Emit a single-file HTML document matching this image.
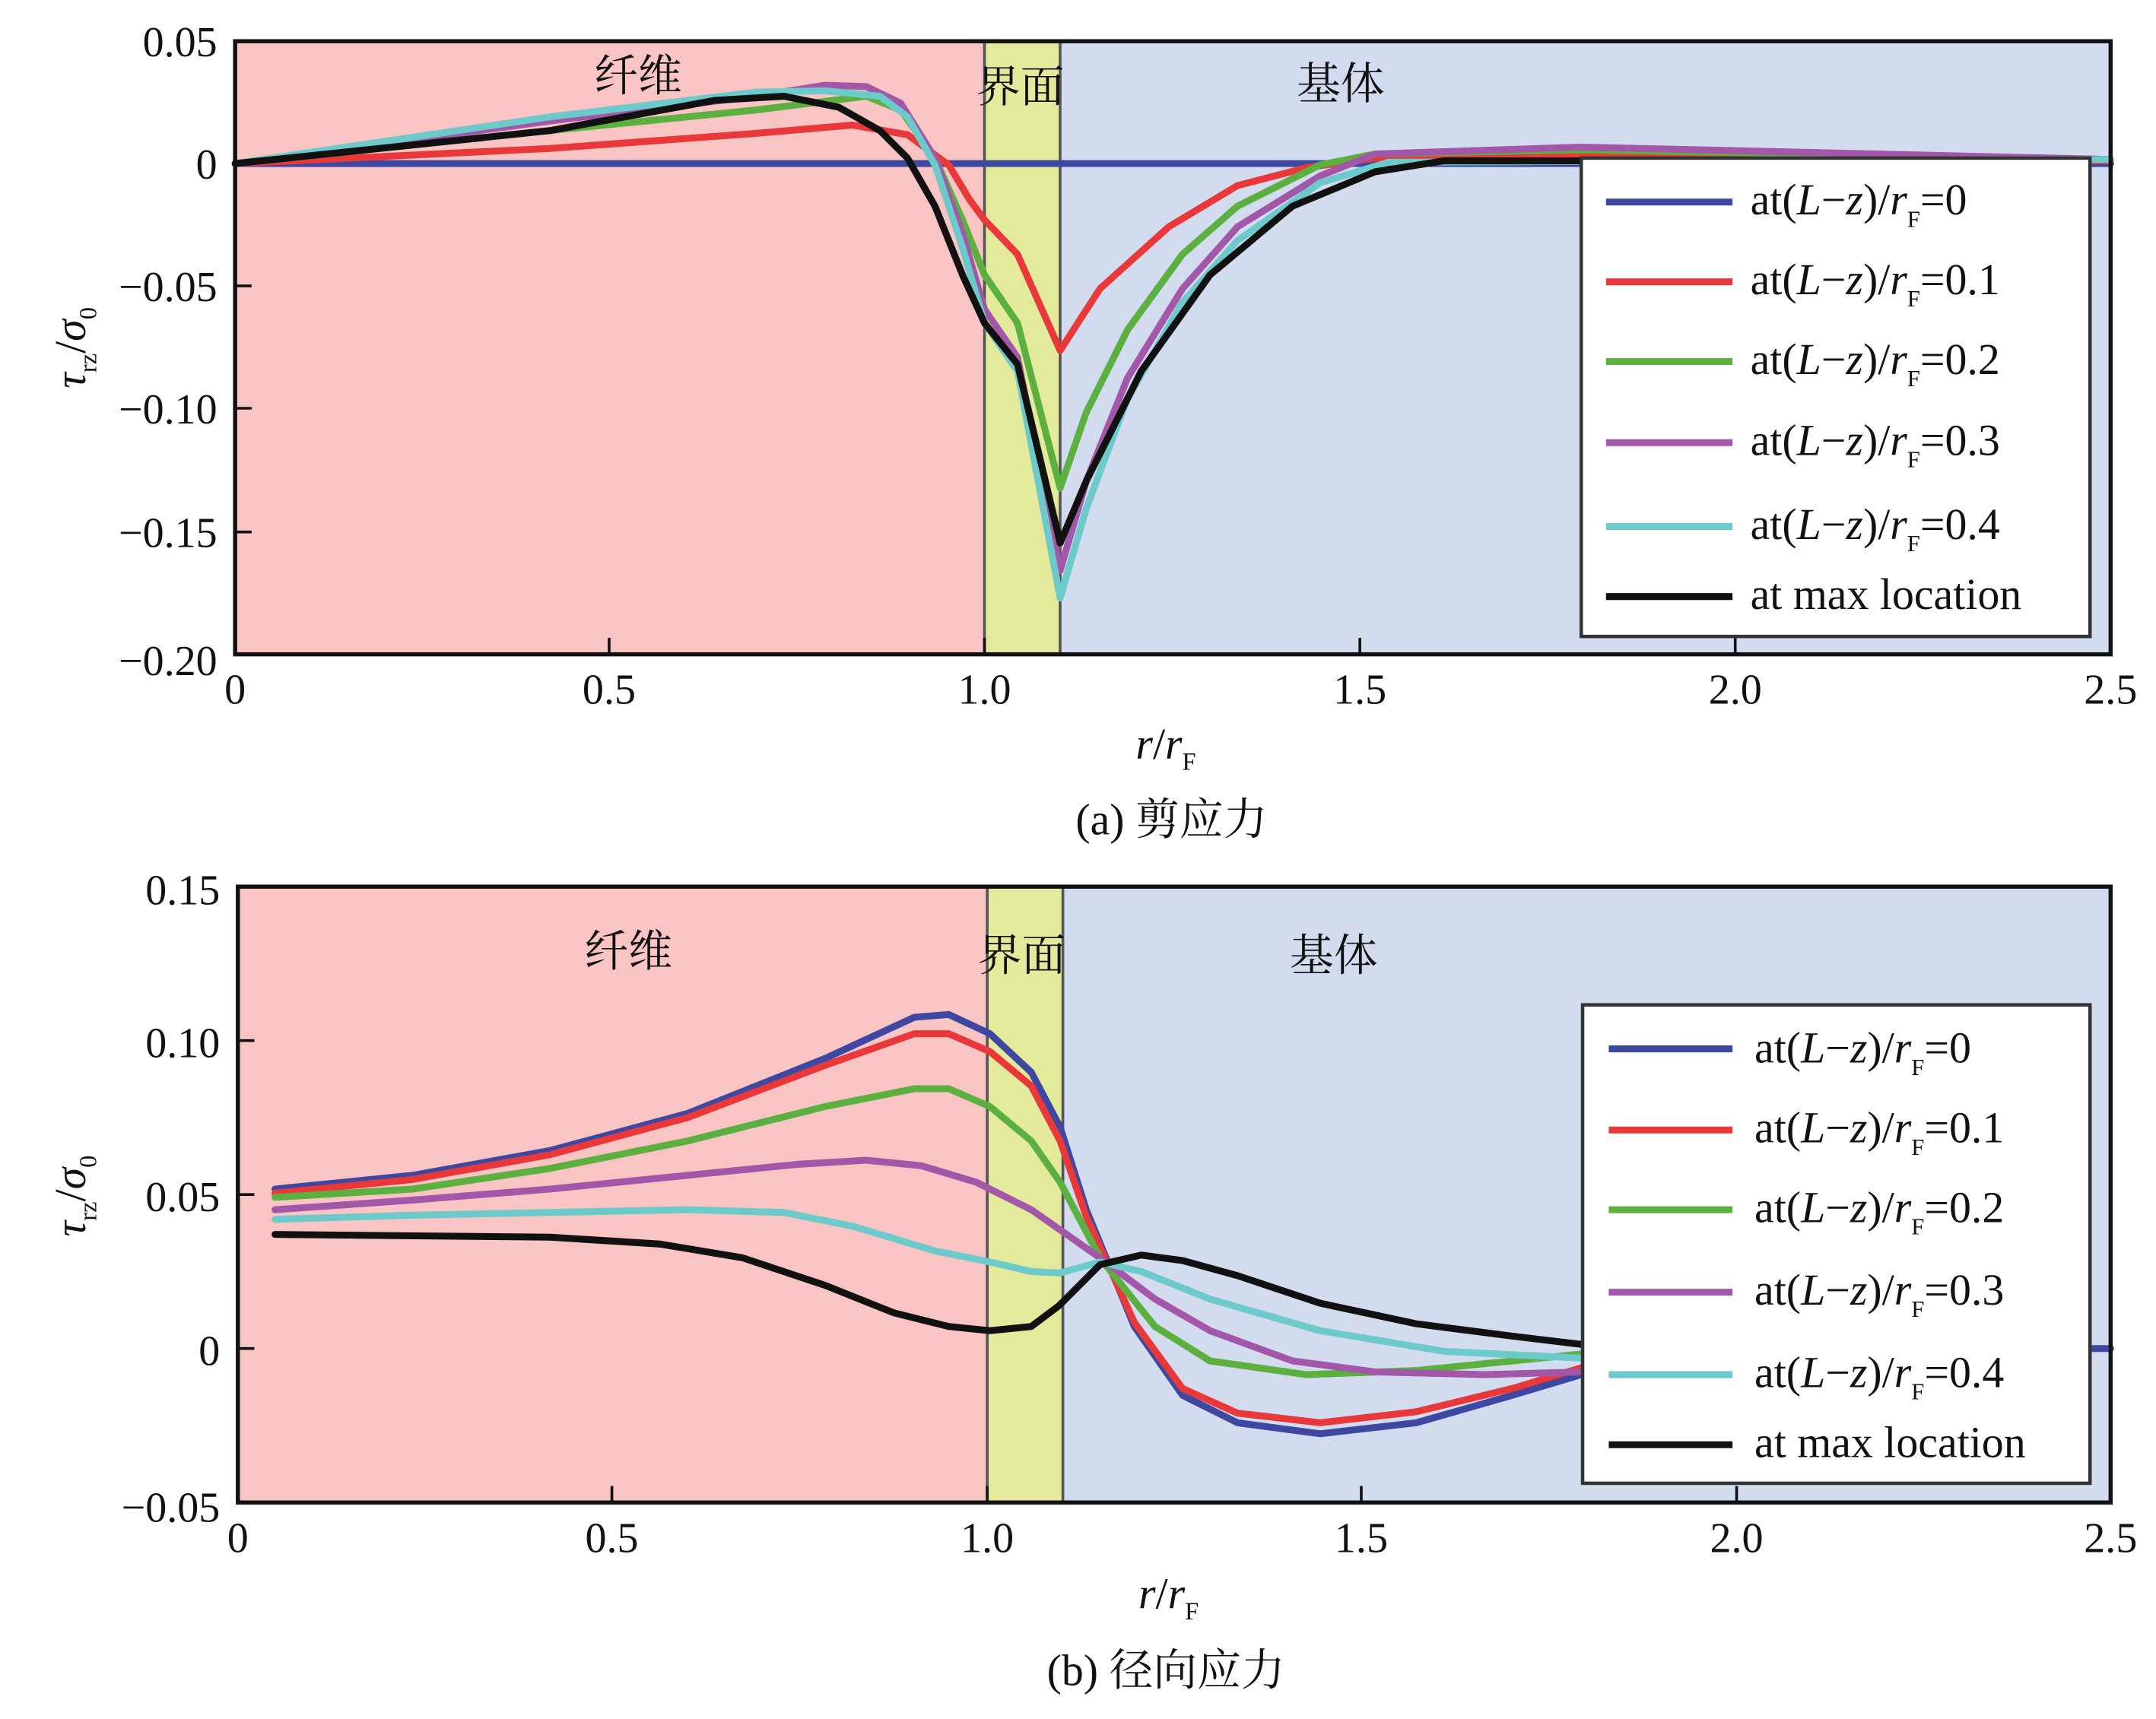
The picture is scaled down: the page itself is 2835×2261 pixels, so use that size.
<!DOCTYPE html>
<html><head><meta charset="utf-8"><style>html,body{margin:0;padding:0;background:#fff}svg{display:block;font-family:"Liberation Serif","Noto Serif CJK SC",serif}</style></head>
<body>
<svg width="2835" height="2261" viewBox="0 0 1568 1250.5" preserveAspectRatio="none" xmlns="http://www.w3.org/2000/svg">
<rect width="1568" height="1251" fill="#fff"/>
<!-- TOP -->
<rect x="171" y="30" width="545" height="446" fill="#f8c4c4"/>
<rect x="716" y="30" width="55" height="446" fill="#e4ea9c"/>
<rect x="771" y="30" width="764" height="446" fill="#d2dcee"/>
<line x1="716" y1="30" x2="716" y2="476" stroke="#555" stroke-width="2"/>
<line x1="771" y1="30" x2="771" y2="476" stroke="#555" stroke-width="2"/>
<g font-size="32" fill="#111"><text x="432" y="66">纤维</text><text x="710" y="74">界面</text><text x="943" y="72">基体</text></g>
<g fill="none" stroke-width="5" stroke-linejoin="round" stroke-linecap="round">
<polyline stroke="#3f48a0" points="171,119 1535,119"/>
<polyline stroke="#e8383a" points="171,119 400,108 550,97 620,91 660,98 690,120 705,145 716,160 740,185 771,255 800,210 850,165 900,135 950,122 1000,115 1150,113 1535,117"/>
<polyline stroke="#5cb040" points="171,119 400,95 550,80 630,70 655,80 680,115 700,160 716,200 740,235 771,355 790,300 820,240 860,185 900,150 960,120 1000,112 1150,109 1535,116"/>
<polyline stroke="#a257a8" points="171,119 400,88 550,70 600,62 630,63 655,75 680,115 700,170 716,225 740,260 771,415 790,350 820,275 860,210 900,165 960,128 1000,112 1150,107 1535,116"/>
<polyline stroke="#6ccaca" points="171,119 400,85 550,67 600,66 640,70 660,85 680,120 700,180 716,235 740,270 771,435 790,370 820,290 860,220 900,175 960,133 1010,118 1535,116"/>
<polyline stroke="#111" points="171,119 400,95 520,73 570,70 610,78 640,95 660,115 680,150 700,200 716,235 740,265 771,395 790,350 830,270 880,200 940,150 1000,125 1050,117 1150,117"/>
</g>
<rect x="171" y="30" width="1364" height="446" fill="none" stroke="#111" stroke-width="3"/>
<g stroke="#111" stroke-width="2"><line x1="443" y1="476" x2="443" y2="464"/><line x1="716" y1="476" x2="716" y2="464"/><line x1="989" y1="476" x2="989" y2="464"/><line x1="1262" y1="476" x2="1262" y2="464"/>
<line x1="171" y1="119" x2="183" y2="119"/><line x1="171" y1="208" x2="183" y2="208"/><line x1="171" y1="297" x2="183" y2="297"/><line x1="171" y1="387" x2="183" y2="387"/></g>
<g font-size="31" fill="#111" text-anchor="end"><text x="158" y="41">0.05</text><text x="158" y="130">0</text><text x="158" y="219">−0.05</text><text x="158" y="308">−0.10</text><text x="158" y="398">−0.15</text><text x="158" y="491">−0.20</text></g>
<g font-size="31" fill="#111" text-anchor="middle"><text x="171" y="512">0</text><text x="443" y="512">0.5</text><text x="716" y="512">1.0</text><text x="989" y="512">1.5</text><text x="1262" y="512">2.0</text><text x="1535" y="512">2.5</text></g>
<text transform="translate(62,253) rotate(-90)" font-size="32" text-anchor="middle" fill="#111"><tspan font-style="italic">τ</tspan><tspan font-size="18" dy="8">rz</tspan><tspan dy="-8">/</tspan><tspan font-style="italic">σ</tspan><tspan font-size="18" dy="8">0</tspan></text>
<text x="826" y="552" font-size="32" fill="#111"><tspan font-style="italic">r</tspan>/<tspan font-style="italic">r</tspan><tspan font-size="18" dy="8">F</tspan></text>
<text x="852" y="607" font-size="32" text-anchor="middle" fill="#111">(a) 剪应力</text>
<rect x="1150" y="115" width="370" height="348" fill="#fff" stroke="#333" stroke-width="2.5"/>
<g stroke-width="5"><line x1="1168" y1="147" x2="1260" y2="147" stroke="#3f48a0"/><line x1="1168" y1="205" x2="1260" y2="205" stroke="#e8383a"/><line x1="1168" y1="263" x2="1260" y2="263" stroke="#5cb040"/><line x1="1168" y1="322" x2="1260" y2="322" stroke="#a257a8"/><line x1="1168" y1="383" x2="1260" y2="383" stroke="#6ccaca"/><line x1="1168" y1="434" x2="1260" y2="434" stroke="#111"/></g>
<g font-size="32" fill="#111">
<text x="1273" y="156">at(<tspan font-style="italic">L</tspan>−<tspan font-style="italic">z</tspan>)/<tspan font-style="italic">r</tspan><tspan font-size="17" dy="9">F</tspan><tspan dy="-9">=0</tspan></text>
<text x="1273" y="214">at(<tspan font-style="italic">L</tspan>−<tspan font-style="italic">z</tspan>)/<tspan font-style="italic">r</tspan><tspan font-size="17" dy="9">F</tspan><tspan dy="-9">=0.1</tspan></text>
<text x="1273" y="272">at(<tspan font-style="italic">L</tspan>−<tspan font-style="italic">z</tspan>)/<tspan font-style="italic">r</tspan><tspan font-size="17" dy="9">F</tspan><tspan dy="-9">=0.2</tspan></text>
<text x="1273" y="331">at(<tspan font-style="italic">L</tspan>−<tspan font-style="italic">z</tspan>)/<tspan font-style="italic">r</tspan><tspan font-size="17" dy="9">F</tspan><tspan dy="-9">=0.3</tspan></text>
<text x="1273" y="392">at(<tspan font-style="italic">L</tspan>−<tspan font-style="italic">z</tspan>)/<tspan font-style="italic">r</tspan><tspan font-size="17" dy="9">F</tspan><tspan dy="-9">=0.4</tspan></text>
<text x="1273" y="443">at max location</text></g>

<!-- BOTTOM -->
<rect x="173" y="645" width="545" height="448" fill="#f8c4c4"/>
<rect x="718" y="645" width="55" height="448" fill="#e4ea9c"/>
<rect x="773" y="645" width="762" height="448" fill="#d2dcee"/>
<line x1="718" y1="645" x2="718" y2="1093" stroke="#555" stroke-width="2"/>
<line x1="773" y1="645" x2="773" y2="1093" stroke="#555" stroke-width="2"/>
<g font-size="32" fill="#111"><text x="425" y="703">纤维</text><text x="711" y="706">界面</text><text x="938" y="706">基体</text></g>
<g fill="none" stroke-width="5" stroke-linejoin="round" stroke-linecap="round">
<polyline stroke="#3f48a0" points="1520,981 1535,981"/>
<polyline stroke="#3f48a0" points="200,865 300,855 400,837 500,810 600,770 665,740 690,738 720,752 750,780 771,820 790,880 825,965 860,1015 900,1035 960,1043 1030,1035 1100,1015 1150,1000"/>
<polyline stroke="#e8383a" points="200,868 300,858 400,840 500,813 600,775 665,752 690,752 720,765 750,790 771,830 790,885 825,962 860,1010 900,1028 960,1035 1030,1027 1100,1010 1150,995"/>
<polyline stroke="#5cb040" points="200,871 300,865 400,850 500,830 600,805 665,792 690,792 720,805 750,830 771,860 800,915 840,965 880,990 950,1000 1030,997 1100,990 1150,985"/>
<polyline stroke="#a257a8" points="200,880 300,873 400,865 500,855 580,847 630,844 670,848 710,860 750,880 800,915 840,945 880,968 940,990 1000,998 1080,1000 1150,998"/>
<polyline stroke="#6ccaca" points="200,887 300,884 400,882 500,880 570,882 620,892 680,910 720,918 750,925 771,926 800,918 830,925 880,945 960,968 1050,983 1150,988"/>
<polyline stroke="#111" points="200,898 400,900 480,905 540,915 600,935 650,955 690,965 720,968 750,965 770,950 800,920 830,913 860,917 900,928 960,948 1030,963 1100,972 1150,978"/>
</g>
<rect x="173" y="645" width="1362" height="448" fill="none" stroke="#111" stroke-width="3"/>
<g stroke="#111" stroke-width="2"><line x1="445" y1="1093" x2="445" y2="1081"/><line x1="718" y1="1093" x2="718" y2="1081"/><line x1="990" y1="1093" x2="990" y2="1081"/><line x1="1263" y1="1093" x2="1263" y2="1081"/>
<line x1="173" y1="757" x2="185" y2="757"/><line x1="173" y1="869" x2="185" y2="869"/><line x1="173" y1="981" x2="185" y2="981"/></g>
<g font-size="31" fill="#111" text-anchor="end"><text x="160" y="658">0.15</text><text x="160" y="769">0.10</text><text x="160" y="881">0.05</text><text x="160" y="993">0</text><text x="160" y="1107">−0.05</text></g>
<g font-size="31" fill="#111" text-anchor="middle"><text x="173" y="1129">0</text><text x="445" y="1129">0.5</text><text x="718" y="1129">1.0</text><text x="990" y="1129">1.5</text><text x="1263" y="1129">2.0</text><text x="1535" y="1129">2.5</text></g>
<text transform="translate(62,870) rotate(-90)" font-size="32" text-anchor="middle" fill="#111"><tspan font-style="italic">τ</tspan><tspan font-size="18" dy="8">rz</tspan><tspan dy="-8">/</tspan><tspan font-style="italic">σ</tspan><tspan font-size="18" dy="8">0</tspan></text>
<text x="828" y="1170" font-size="32" fill="#111"><tspan font-style="italic">r</tspan>/<tspan font-style="italic">r</tspan><tspan font-size="18" dy="8">F</tspan></text>
<text x="848" y="1226" font-size="32" text-anchor="middle" fill="#111">(b) 径向应力</text>
<rect x="1151" y="731" width="369" height="348" fill="#fff" stroke="#333" stroke-width="2.5"/>
<g stroke-width="5"><line x1="1170" y1="763" x2="1260" y2="763" stroke="#3f48a0"/><line x1="1170" y1="822" x2="1260" y2="822" stroke="#e8383a"/><line x1="1170" y1="880" x2="1260" y2="880" stroke="#5cb040"/><line x1="1170" y1="940" x2="1260" y2="940" stroke="#a257a8"/><line x1="1170" y1="1000" x2="1260" y2="1000" stroke="#6ccaca"/><line x1="1170" y1="1051" x2="1260" y2="1051" stroke="#111"/></g>
<g font-size="32" fill="#111">
<text x="1276" y="773">at(<tspan font-style="italic">L</tspan>−<tspan font-style="italic">z</tspan>)/<tspan font-style="italic">r</tspan><tspan font-size="17" dy="9">F</tspan><tspan dy="-9">=0</tspan></text>
<text x="1276" y="831">at(<tspan font-style="italic">L</tspan>−<tspan font-style="italic">z</tspan>)/<tspan font-style="italic">r</tspan><tspan font-size="17" dy="9">F</tspan><tspan dy="-9">=0.1</tspan></text>
<text x="1276" y="889">at(<tspan font-style="italic">L</tspan>−<tspan font-style="italic">z</tspan>)/<tspan font-style="italic">r</tspan><tspan font-size="17" dy="9">F</tspan><tspan dy="-9">=0.2</tspan></text>
<text x="1276" y="949">at(<tspan font-style="italic">L</tspan>−<tspan font-style="italic">z</tspan>)/<tspan font-style="italic">r</tspan><tspan font-size="17" dy="9">F</tspan><tspan dy="-9">=0.3</tspan></text>
<text x="1276" y="1009">at(<tspan font-style="italic">L</tspan>−<tspan font-style="italic">z</tspan>)/<tspan font-style="italic">r</tspan><tspan font-size="17" dy="9">F</tspan><tspan dy="-9">=0.4</tspan></text>
<text x="1276" y="1060">at max location</text></g>
</svg>
</body></html>
